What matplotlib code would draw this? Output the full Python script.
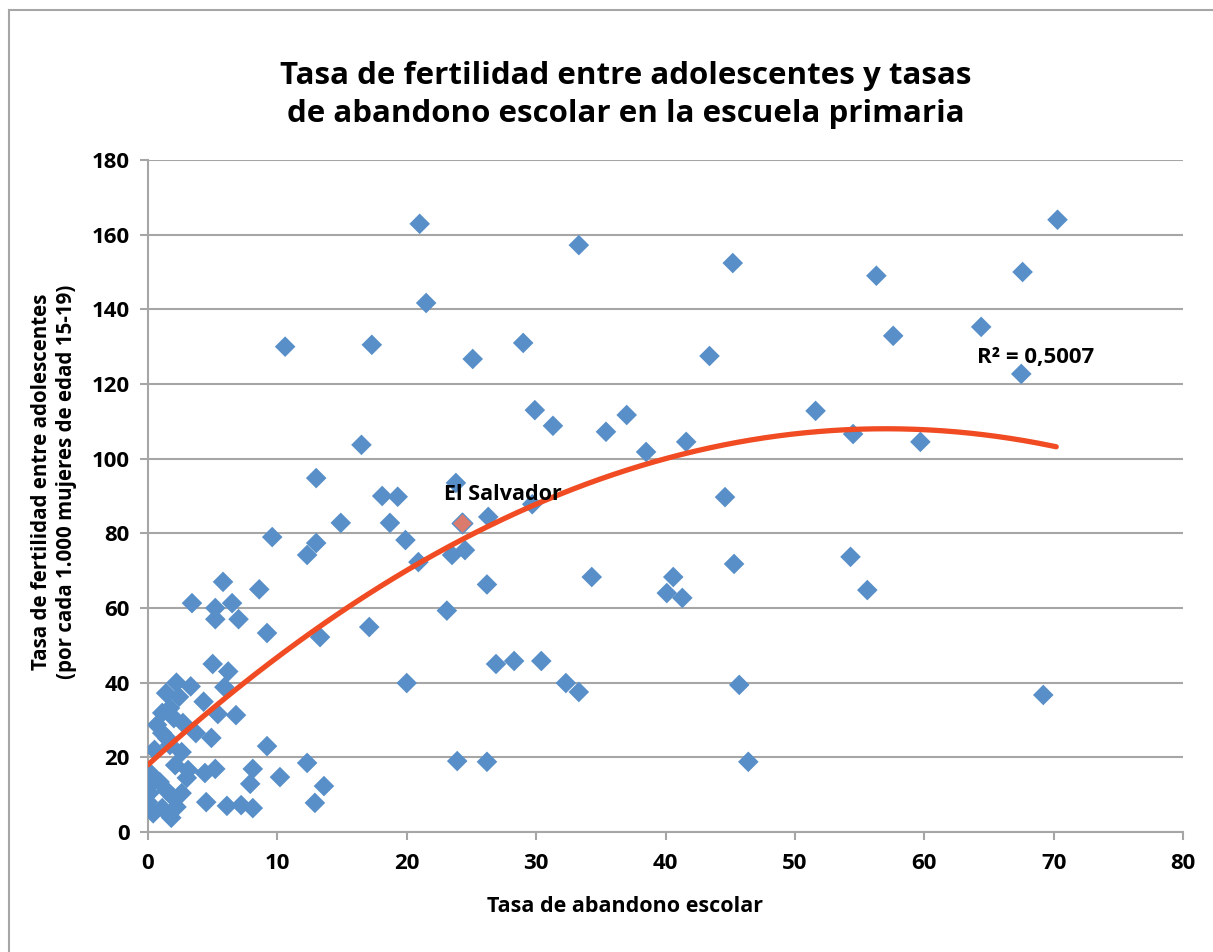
import numpy as np
import matplotlib
matplotlib.use('Agg')
import matplotlib.pyplot as plt
from matplotlib.lines import Line2D

# Tasa de abandono escolar (x) y tasa de fertilidad adolescente (y)
abandono = [21.0, 33.3, 45.2, 21.5, 10.6, 17.3, 25.1, 29.0, 43.4, 56.3,
            57.6, 64.4, 67.6, 70.3, 67.5, 29.9, 31.3, 35.4, 37.0, 38.5,
            41.6, 51.6, 54.5, 59.7, 16.5, 13.0, 23.8, 18.1, 19.3, 14.9,
            18.7, 9.6, 13.0, 12.3, 19.9, 20.9, 23.5, 24.5, 26.3, 29.7,
            44.6, 26.2, 23.1, 34.3, 40.6, 40.1, 41.3, 45.3, 54.3, 55.6,
            69.2, 26.9, 28.3, 30.4, 20.0, 32.3, 33.3, 45.7, 23.9, 26.2,
            46.4, 17.1, 13.3, 3.4, 5.8, 5.2, 6.5, 5.2, 7.0, 8.6,
            9.2, 5.0, 6.2, 9.2, 8.1, 7.9, 10.2, 12.3, 13.6, 12.9,
            8.1, 7.2, 2.2, 3.3, 5.9, 4.3, 5.4, 6.8, 1.4, 2.4,
            0.7, 1.1, 1.7, 1.1, 2.7, 3.7, 4.9, 2.6, 0.5, 1.7,
            2.1, 3.1, 0.1, 4.4, 5.2, 4.5, 6.1, 1.8, 0.4, 0.1,
            0.0, 0.0, 0.9, 1.4, 1.9, 2.2, 1.1, 2.6, 3.0, 2.0,
            1.5]
fertilidad = [162.9, 157.2, 152.4, 141.7, 130.0, 130.5, 126.7, 131.0, 127.5, 149.0,
              132.9, 135.3, 150.0, 164.0, 122.7, 113.0, 108.8, 107.2, 111.7, 101.8,
              104.5, 112.8, 106.6, 104.5, 103.7, 94.8, 93.5, 90.0, 89.8, 82.8,
              82.8, 79.0, 77.4, 74.2, 78.2, 72.3, 74.2, 75.5, 84.4, 87.8,
              89.7, 66.3, 59.3, 68.3, 68.3, 64.0, 62.7, 71.8, 73.7, 64.8,
              36.7, 45.0, 45.8, 45.8, 39.9, 39.9, 37.5, 39.4, 19.0, 18.8,
              18.8, 54.9, 52.2, 61.3, 67.0, 60.0, 61.3, 57.0, 57.0, 65.0,
              53.3, 45.0, 43.0, 23.0, 16.9, 12.9, 14.7, 18.5, 12.3, 7.8,
              6.4, 7.2, 40.0, 39.0, 38.8, 34.9, 31.6, 31.3, 37.2, 36.2,
              28.7, 31.9, 33.2, 26.5, 29.2, 26.5, 25.2, 21.4, 22.0, 23.3,
              17.9, 16.6, 16.0, 15.8, 16.9, 8.0, 7.0, 3.8, 5.0, 10.4,
              8.0, 12.0, 13.4, 11.2, 9.4, 6.7, 6.4, 10.4, 14.5, 30.5,
              25.0]

# El Salvador
sv_x = 24.3
sv_y = 82.8

# linea de tendencia polinomica (grado 2), coeficientes
tend_coef = [-0.0277, 3.158, 18.0]
tend_xmax = 70.2
r2_text = 'R² = 0,5007'

azul = '#588FC8'
rojo = '#F04B22'
gris = '#A6A6A6'

plt.rcParams['font.family'] = ['Open Sans', 'DejaVu Sans']

fig = plt.figure(figsize=(12.13, 9.52), dpi=100)
ax = fig.add_axes([148/1213, 1-832/952, (1183-148)/1213, (832-160)/952])

ax.scatter(abandono, fertilidad, marker='D', s=110, color=azul,
           edgecolors='none', zorder=3)
ax.scatter([sv_x], [sv_y], marker='D', s=110, color='#DB7B6E',
           edgecolors=azul, linewidths=1.0, zorder=4)

xt = np.linspace(0, tend_xmax, 200)
ax.plot(xt, np.polyval(tend_coef, xt), color=rojo, lw=3.8,
        solid_capstyle='round', zorder=5)

ax.text(27.4, 90.5, 'El Salvador', ha='center', va='center',
        fontsize=15.5, fontweight='bold', zorder=6)
ax.text(64.1, 127.2, r2_text, ha='left', va='center',
        fontsize=16, fontweight='bold', zorder=6)

ax.set_xlim(0, 80)
ax.set_ylim(0, 180)
ax.set_xticks(range(0, 81, 10))
ax.set_yticks(range(0, 181, 20))
ax.yaxis.grid(True, color=gris, lw=1.5)
ax.set_axisbelow(True)
for s in ['top', 'right']:
    ax.spines[s].set_visible(False)
for s in ['left', 'bottom']:
    ax.spines[s].set_color(gris)
    ax.spines[s].set_linewidth(1.5)
ax.tick_params(axis='both', colors=gris, width=1.5, length=6, direction='out',
               labelcolor='black', labelsize=16)
ax.tick_params(axis='y', pad=7)
ax.tick_params(axis='x', pad=9)
for lab in ax.get_xticklabels() + ax.get_yticklabels():
    lab.set_fontweight('bold')

fig.text(626/1213, 1-95/952,
         'Tasa de fertilidad entre adolescentes y tasas\nde abandono escolar en la escuela primaria',
         ha='center', va='center', fontsize=22.5, fontweight='bold', linespacing=1.35)
fig.text(625/1213, 1-906/952, 'Tasa de abandono escolar', ha='center', va='center',
         fontsize=15.5, fontweight='bold')
fig.text(54/1213, 1-482/952,
         'Tasa de fertilidad entre adolescentes\n(por cada 1.000 mujeres de edad 15-19)',
         ha='center', va='center', rotation=90, fontsize=14.8, fontweight='bold',
         linespacing=1.3)

# borde del grafico
fig.add_artist(Line2D([9/1213, 9/1213], [0, 1-10/952], color=gris, lw=1.5))
fig.add_artist(Line2D([9/1213, 1], [1-10/952, 1-10/952], color=gris, lw=1.5))

fig.savefig('out.png', dpi=100)
